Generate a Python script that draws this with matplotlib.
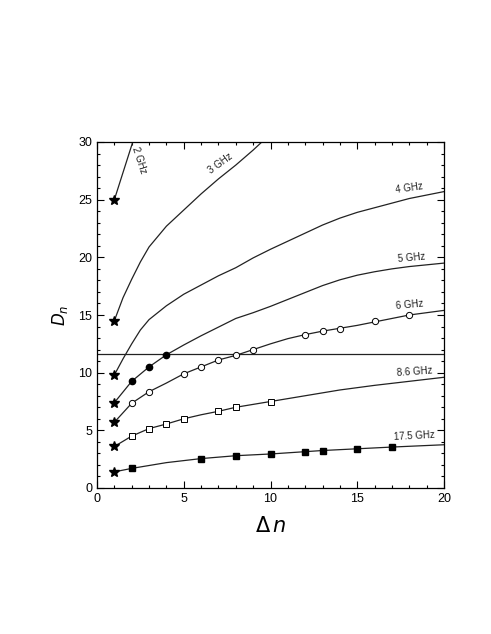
import matplotlib.pyplot as plt
from matplotlib.ticker import MultipleLocator

plt.rcParams['font.family'] = ['Liberation Sans', 'DejaVu Sans']

# curves (lines)
x2 = [1, 2.06]
y2 = [25, 30]

x3 = [1, 1.5, 2, 2.5, 3, 4, 5, 6, 7, 8, 9, 9.5]
y3 = [14.5, 16.5, 18.1, 19.6, 20.9, 22.7, 24.1, 25.5, 26.8, 28.0, 29.3, 30]

x4 = [1, 1.5, 2, 2.5, 3, 4, 5, 6, 7, 8, 9, 10, 11, 12, 13, 14, 15, 16, 17, 18, 19, 20]
y4 = [9.8, 11.2, 12.5, 13.7, 14.6, 15.8, 16.8, 17.6, 18.4, 19.1, 19.95, 20.7, 21.4,
      22.1, 22.8, 23.4, 23.9, 24.3, 24.7, 25.1, 25.4, 25.7]

x5 = [1, 2, 3, 4, 5, 6, 7, 8, 9, 10, 11, 12, 13, 14, 15, 16, 17, 18, 19, 20]
y5 = [7.4, 9.25, 10.5, 11.55, 12.4, 13.2, 13.95, 14.7, 15.2, 15.75, 16.35, 16.95, 17.55,
      18.05, 18.45, 18.75, 19.0, 19.2, 19.35, 19.5]

x6 = [1, 2, 3, 4, 5, 6, 7, 8, 9, 10, 11, 12, 13, 14, 15, 16, 17, 18, 19, 20]
y6 = [5.7, 7.35, 8.35, 9.1, 9.9, 10.5, 11.1, 11.5, 12.0, 12.5, 12.95, 13.3, 13.6,
      13.85, 14.1, 14.4, 14.7, 15.0, 15.2, 15.4]

x86 = [1, 2, 3, 4, 5, 6, 7, 8, 9, 10, 12, 14, 16, 18, 20]
y86 = [3.6, 4.5, 5.15, 5.55, 6.0, 6.35, 6.65, 7.0, 7.25, 7.5, 8.0, 8.5, 8.9, 9.25, 9.6]

x175 = [1, 2, 3, 4, 6, 8, 10, 12, 13, 15, 17, 20]
y175 = [1.4, 1.7, 1.95, 2.2, 2.55, 2.8, 2.95, 3.15, 3.25, 3.4, 3.55, 3.75]

# measured points
star_x = [1, 1, 1, 1, 1, 1, 1]
star_y = [25, 14.5, 9.8, 7.4, 5.7, 3.6, 1.4]
fc_x = [2, 3, 4]
fc_y = [9.25, 10.5, 11.55]
oc_x = [2, 3, 5, 6, 7, 8, 9, 12, 13, 14, 16, 18]
oc_y = [7.35, 8.35, 9.9, 10.5, 11.1, 11.5, 12.0, 13.3, 13.6, 13.8, 14.45, 15.0]
os_x = [2, 3, 4, 5, 7, 8, 10]
os_y = [4.5, 5.15, 5.55, 6.0, 6.65, 7.0, 7.5]
fs_x = [2, 6, 8, 10, 12, 13, 15, 17]
fs_y = [1.7, 2.55, 2.8, 2.95, 3.15, 3.25, 3.4, 3.55]

threshold = 11.6

fig = plt.figure(figsize=(4.91, 6.34), dpi=100)
ax = fig.add_axes([97 / 491, 1 - 488 / 634, 347 / 491, 346 / 634])

for xs, ys in [(x2, y2), (x3, y3), (x4, y4), (x5, y5), (x6, y6), (x86, y86), (x175, y175)]:
    ax.plot(xs, ys, color='#222222', lw=0.9)
ax.axhline(threshold, color='#222222', lw=0.9)

ax.plot(star_x, star_y, ls='none', marker='*', ms=7, color='k')
ax.plot(fc_x, fc_y, ls='none', marker='o', ms=4.5, color='k')
ax.plot(oc_x, oc_y, ls='none', marker='o', ms=4.5, mfc='white', mec='k', mew=0.7)
ax.plot(os_x, os_y, ls='none', marker='s', ms=4.5, mfc='white', mec='k', mew=0.7)
ax.plot(fs_x, fs_y, ls='none', marker='s', ms=4.5, color='k')

lbl = dict(fontsize=7, color='#222222', ha='center', va='center')
ax.text(2.45, 28.4, '2 GHz', rotation=-72, **lbl)
ax.text(7.1, 28.1, '3 GHz', rotation=36, **lbl)
ax.text(18.0, 26.0, '4 GHz', rotation=8, **lbl)
ax.text(18.1, 19.95, '5 GHz', rotation=5, **lbl)
ax.text(18.0, 15.9, '6 GHz', rotation=5, **lbl)
ax.text(18.3, 10.1, '8.6 GHz', rotation=4, **lbl)
ax.text(18.3, 4.5, '17.5 GHz', rotation=3, **lbl)

ax.set_xlim(0, 20)
ax.set_ylim(0, 30)
ax.xaxis.set_major_locator(MultipleLocator(5))
ax.xaxis.set_minor_locator(MultipleLocator(1))
ax.yaxis.set_major_locator(MultipleLocator(5))
ax.yaxis.set_minor_locator(MultipleLocator(1))
ax.tick_params(which='both', direction='in', top=True, right=True, labelsize=9, width=0.8)
ax.tick_params(which='major', length=5)
ax.tick_params(which='minor', length=2.5)
for s in ax.spines.values():
    s.set_linewidth(0.9)

ax.set_xlabel(r'$\Delta\,n$', fontsize=15, labelpad=8)
ax.set_ylabel(r'$D_n$', fontsize=12, labelpad=6)

fig.savefig('out.png', dpi=100)
